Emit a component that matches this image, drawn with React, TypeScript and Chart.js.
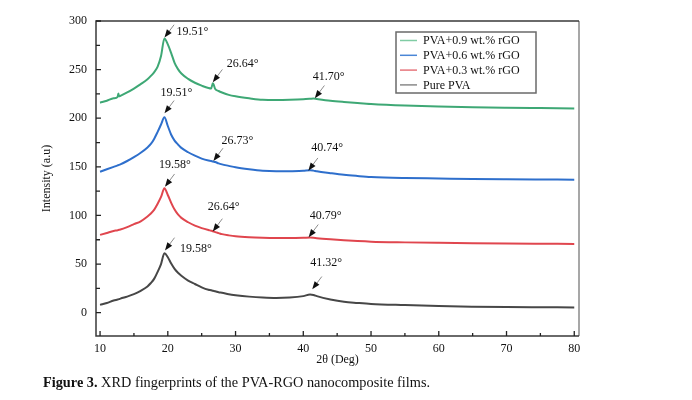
import React, { useEffect, useRef } from "react";
import { Chart, registerables } from "chart.js";

Chart.register(...registerables);

const SERIF = '"Liberation Serif", "Times New Roman", Times, serif';

// 2θ sampling positions (degrees)
const twoTheta = [
  10, 11, 12, 12.6, 12.7, 12.8, 13, 14, 15, 16, 17, 17.5, 18, 18.5, 19, 19.5, 20,
  20.5, 21, 21.5, 22, 23, 24, 25, 26, 26.4, 26.65, 27, 27.5, 28, 29, 30, 32, 34,
  36, 38, 40, 41, 41.5, 42, 44, 46, 48, 50, 55, 60, 65, 70, 75, 80,
];

// Intensity (a.u) for each film
const pva09 = [
  216, 218, 220.5, 222, 225.5, 222.5, 223, 226.5, 230.5, 235, 240, 243.5, 247.5, 253, 264, 282, 276,
  267, 257, 250.5, 246, 240.5, 236.5, 233.5, 231, 230.5, 236, 230, 228, 226.5, 224, 222.5, 220.5, 219,
  218.8, 219, 219.5, 220, 220.3, 219.8, 218, 216.7, 215.6, 214.6, 213, 212, 211.3, 210.8, 210.4, 210,
];
const pva06 = [
  145, 147.5, 150, 151.5, 151.8, 152, 152.5, 156, 160, 164.5, 170, 173.5, 179, 186, 193.5, 201, 192,
  183, 177, 173, 169.5, 165, 161.5, 158.5, 156.5, 156, 155.5, 155, 153.5, 152.5, 151, 149.5, 147.5, 146,
  145.5, 145.5, 146, 146.5, 146.1, 145.4, 143.5, 141.8, 140.6, 139.6, 138.5, 138, 137.5, 137.2, 137, 136.8,
];
const pva03 = [
  80, 82, 84, 84.8, 85, 85.2, 85.5, 88, 91, 94, 99, 102, 106, 112, 119, 128, 121,
  113, 106, 101, 97.5, 93, 89.5, 87, 85, 84.3, 83.8, 82.8, 81.8, 80.8, 79.5, 78.5, 77.5, 77,
  76.8, 76.8, 77, 77.2, 77, 76.6, 75.4, 74.4, 73.6, 73, 72.3, 71.8, 71.4, 71.1, 70.9, 70.7,
];
const purePva = [
  8, 10, 12.5, 13.5, 13.7, 13.9, 14.5, 16.5, 19, 22.5, 27, 30.5, 35, 42, 50, 61, 57,
  50.5, 45, 41, 38, 33, 29.5, 26, 23.5, 23, 22.5, 22, 21, 20.5, 19, 18, 16.5, 15.5,
  15, 15.5, 17, 18.6, 18.2, 17, 13.6, 11.2, 10, 9, 7.8, 6.8, 6.2, 5.8, 5.6, 5.4,
];

const seriesLabels = ["PVA+0.9 wt.% rGO", "PVA+0.6 wt.% rGO", "PVA+0.3 wt.% rGO", "Pure PVA"];
const seriesValues = [pva09, pva06, pva03, purePva];
const lineColors = ["#3ea875", "#2e6fcc", "#e0464e", "#474747"];
const legendColors = ["#80cca4", "#4a86d6", "#e7767d", "#8a8a8a"];

// Marked reflections: series index, 2θ, intensity at arrow tip
const peakSeries = [0, 0, 0, 1, 1, 1, 2, 2, 2, 3, 3];
const peakTheta = [19.51, 26.64, 41.7, 19.51, 26.73, 40.74, 19.58, 26.64, 40.79, 19.58, 41.32];
const peakIntensity = [283, 237, 220.5, 205, 156, 146, 129.5, 83.5, 77.5, 64, 24];
// label placement relative to the arrow tip (px)
const peakLabelDx = [12, 14, -2, -4, 8, 3, -6, -5, 1, 15, -2];
const peakLabelDy = [-6, -18, -21, -21, -20, -23, -22, -25, -21, -2, -26];

const xTicks = { min: 9.4, max: 80.7, step: 10 };
const yTicks = { min: -24, max: 300, step: 50 };

const framePlugin = {
  id: "xrdFrame",
  afterDraw(chart: any) {
    const { ctx, chartArea } = chart;
    const { left, right, top, bottom } = chartArea;
    const xs = chart.scales.x;
    const ys = chart.scales.y;
    ctx.save();

    // frame
    ctx.lineWidth = 1.5;
    ctx.strokeStyle = "#8a8a8a";
    ctx.beginPath();
    ctx.moveTo(right, top);
    ctx.lineTo(right, bottom);
    ctx.stroke();
    ctx.strokeStyle = "#3a3a3a";
    ctx.beginPath();
    ctx.moveTo(right, top);
    ctx.lineTo(left, top);
    ctx.lineTo(left, bottom);
    ctx.lineTo(right, bottom);
    ctx.stroke();

    // inward tick marks
    ctx.lineWidth = 1.3;
    ctx.strokeStyle = "#222";
    ctx.beginPath();
    xs.ticks.forEach((t: any) => {
      const px = xs.getPixelForValue(t.value);
      ctx.moveTo(px, bottom);
      ctx.lineTo(px, bottom - 5);
      const mid = t.value + xTicks.step / 2;
      if (mid < xTicks.max) {
        const pm = xs.getPixelForValue(mid);
        ctx.moveTo(pm, bottom);
        ctx.lineTo(pm, bottom - 3);
      }
    });
    ys.ticks.forEach((t: any) => {
      const py = ys.getPixelForValue(t.value);
      ctx.moveTo(left, py);
      ctx.lineTo(left + 5, py);
      const mid = t.value - yTicks.step / 2;
      if (mid > yTicks.min) {
        const pm = ys.getPixelForValue(mid);
        ctx.moveTo(left, pm);
        ctx.lineTo(left + 4, pm);
      }
    });
    ctx.stroke();

    // peak arrows and labels
    ctx.font = `12px ${SERIF}`;
    ctx.textBaseline = "middle";
    ctx.textAlign = "left";
    peakTheta.forEach((th, i) => {
      const tx = xs.getPixelForValue(th);
      const ty = ys.getPixelForValue(peakIntensity[i]);
      const ux = 0.6, uy = -0.8;
      ctx.strokeStyle = "#8c8c8c";
      ctx.lineWidth = 1;
      ctx.beginPath();
      ctx.moveTo(tx + ux * 5, ty + uy * 5);
      ctx.lineTo(tx + ux * 16, ty + uy * 16);
      ctx.stroke();
      const hx = tx + ux * 8, hy = ty + uy * 8;
      ctx.fillStyle = "#111";
      ctx.beginPath();
      ctx.moveTo(tx, ty);
      ctx.lineTo(hx - uy * 3, hy + ux * 3);
      ctx.lineTo(hx + uy * 3, hy - ux * 3);
      ctx.closePath();
      ctx.fill();
      ctx.fillStyle = "#111";
      ctx.fillText(`${th.toFixed(2)}°`, tx + peakLabelDx[i], ty + peakLabelDy[i]);
    });

    // legend box
    const bx = 396, by = 32, bw = 140, bh = 61;
    ctx.fillStyle = "#fff";
    ctx.fillRect(bx, by, bw, bh);
    ctx.strokeStyle = "#6a6a6a";
    ctx.lineWidth = 1.5;
    ctx.strokeRect(bx, by, bw, bh);
    chart.data.datasets.forEach((ds: any, i: number) => {
      const ly = by + 8.5 + i * 14.8;
      ctx.strokeStyle = legendColors[i];
      ctx.lineWidth = 1.5;
      ctx.beginPath();
      ctx.moveTo(bx + 4, ly);
      ctx.lineTo(bx + 21, ly);
      ctx.stroke();
      ctx.fillStyle = "#111";
      ctx.fillText(ds.label, bx + 27, ly + 0.5);
    });

    ctx.restore();
  },
};

export default function App() {
  const canvasRef = useRef<HTMLCanvasElement>(null);

  useEffect(() => {
    document.body.style.margin = "0";
    const canvas = canvasRef.current;
    if (!canvas) return;
    const chart = new Chart(canvas, {
      type: "line",
      data: {
        datasets: seriesValues.map((vals, i) => ({
          label: seriesLabels[i],
          data: twoTheta.map((t, k) => ({ x: t, y: vals[k] })),
          borderColor: lineColors[i],
          backgroundColor: lineColors[i],
          borderWidth: 2,
          pointRadius: 0,
          cubicInterpolationMode: "monotone" as const,
          fill: false,
        })),
      },
      options: {
        responsive: false,
        animation: false,
        devicePixelRatio: 1,
        layout: { padding: { left: 0, top: 21, right: 113, bottom: 33 } },
        plugins: { legend: { display: false }, tooltip: { enabled: false } },
        scales: {
          x: {
            type: "linear",
            min: xTicks.min,
            max: xTicks.max,
            border: { display: false },
            grid: { display: false, drawTicks: false },
            ticks: {
              stepSize: xTicks.step,
              includeBounds: false,
              padding: 6,
              color: "#111",
              font: { family: SERIF, size: 12 },
              maxRotation: 0,
            },
            title: {
              display: true,
              text: "2θ (Deg)",
              color: "#111",
              font: { family: SERIF, size: 12 },
              padding: 0,
            },
            afterFit: (s: any) => {
              s.height = 31;
            },
          },
          y: {
            type: "linear",
            min: yTicks.min,
            max: yTicks.max,
            border: { display: false },
            grid: { display: false, drawTicks: false },
            ticks: {
              stepSize: yTicks.step,
              includeBounds: false,
              padding: 9,
              color: "#111",
              font: { family: SERIF, size: 12 },
            },
            title: {
              display: true,
              text: "Intensity (a.u)",
              color: "#111",
              font: { family: SERIF, size: 12 },
              padding: { top: 40, bottom: 0 },
            },
            afterFit: (s: any) => {
              s.width = 96;
            },
          },
        },
      },
      plugins: [framePlugin],
    });
    return () => chart.destroy();
  }, []);

  return (
    <div style={{ position: "relative", width: 692, height: 400, background: "#fff" }}>
      <canvas ref={canvasRef} width={692} height={400} style={{ display: "block" }} />
      <div
        style={{
          position: "absolute",
          left: 43,
          top: 374,
          fontFamily: SERIF,
          fontSize: 14.3,
          color: "#111",
          whiteSpace: "nowrap",
        }}
      >
        <b>Figure 3.</b> XRD fingerprints of the PVA-RGO nanocomposite films.
      </div>
    </div>
  );
}
